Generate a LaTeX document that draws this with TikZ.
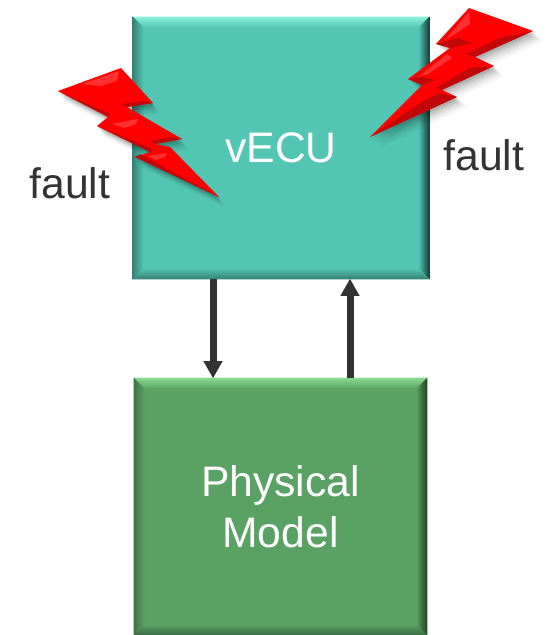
\documentclass[tikz,border=0pt]{standalone}
\usepackage{fontspec}
\setmainfont{Liberation Sans}
\usetikzlibrary{arrows.meta,calc,backgrounds}
\definecolor{tealface}{HTML}{52C5B3}
\definecolor{teallight}{HTML}{8CF0DC}
\definecolor{tealside}{HTML}{358377}
\definecolor{tealdark}{HTML}{173F39}
\definecolor{tealbot}{HTML}{357F73}
\definecolor{greenface}{HTML}{5AA263}
\definecolor{greenlight}{HTML}{8ADB94}
\definecolor{greenside}{HTML}{3F7546}
\definecolor{greendark}{HTML}{1E3D23}
\definecolor{greenbot}{HTML}{3A6B41}
\definecolor{ink}{HTML}{333333}
\definecolor{boltred}{HTML}{FF0000}
\definecolor{boltdark}{HTML}{A80A0A}
\definecolor{boltlight}{HTML}{FF7878}
\tikzset{
  boxnode/.style={inner sep=0pt,text=white,font=\fontsize{32pt}{38.5pt}\selectfont,align=center},
  flow/.style={ink,line width=5.25pt,-{Triangle[width=13.5pt,length=13pt]},shorten >=-0.5pt},
  faultlabel/.style={text=ink,inner sep=0pt,font=\fontsize{32pt}{38.5pt}\selectfont},
  boltlit/.style={boltlight,opacity=.4},
  boltshade/.style={boltdark,opacity=.7},
}
\newcommand{\bevelbox}[2]{%
  \fill[#2face] (#1.south west) rectangle (#1.north east);
  \shade[top color=#2light,bottom color=#2face]
    (#1.north west) -- (#1.north east) -- ($(#1.north east)+(-11,11)$) -- ($(#1.north west)+(11,11)$) -- cycle;
  \shade[left color=#2side,right color=#2face]
    (#1.north west) -- ($(#1.north west)+(11,11)$) -- ($(#1.south west)+(11,-11)$) -- (#1.south west) -- cycle;
  \shade[left color=#2face,right color=#2dark]
    (#1.north east) -- ($(#1.north east)+(-11,11)$) -- ($(#1.south east)+(-11,-11)$) -- (#1.south east) -- cycle;
  \shade[top color=#2face,bottom color=#2bot]
    (#1.south west) -- ($(#1.south west)+(11,-11)$) -- ($(#1.south east)+(-11,-11)$) -- (#1.south east) -- cycle;
}
\newcommand{\boltleft}{(58,91) -- (121,68) -- (153,103) -- (127,107) -- (182,139) -- (155,144) -- (170,147) -- (219,197) -- (135,157) -- (150,152) -- (97,126) -- (108,117) -- cycle}
\newcommand{\boltright}{(533,31) -- (469,8) -- (436,44) -- (450,48) -- (408,79) -- (422,85) -- (370,137) -- (457,97) -- (442,90) -- (494,66) -- (475,57) -- cycle}
\begin{document}
\begin{tikzpicture}[x=0.75pt,y=-0.75pt]
\useasboundingbox (0,0) rectangle (549,635);
\node[boxnode,minimum width=222pt,minimum height=196.5pt] (vecu) at (281,148) {\raisebox{-2.2pt}{vECU}};
\node[boxnode,minimum width=219.75pt,minimum height=192.75pt] (model) at (280.5,506.5) {\raisebox{-0.6pt}{Physical}\\\raisebox{-0.6pt}{Model}};
\begin{scope}[on background layer]
  \bevelbox{vecu}{teal}
  \bevelbox{model}{green}
\end{scope}
% connectors
\coordinate (downx) at (213,0);
\coordinate (upx) at (350,0);
\draw[flow] (vecu.south -| downx) -- (model.north -| downx);
\draw[flow] (model.north -| upx) -- (vecu.south -| upx);
% labels
\node[faultlabel] (f1) at (70,183.5) {fault};
\node[faultlabel] (f2) at (484,155.5) {fault};
% left bolt
\foreach \d/\o in {10/.04,8/.05,6/.07,4/.09,2/.11}{
  \fill[black,opacity=\o,shift={(\d*0.6,\d)}] \boltleft;
}
\fill[boltred] \boltleft;
\fill[boltlit] (82,84) -- (119,71) -- (117,81) -- (100,86) -- cycle;
\fill[boltlit] (112,124) -- (138,119) -- (136,124) -- (124,128) -- cycle;
\fill[boltlit] (148,156) -- (167,153) -- (165,157) -- (156,160) -- cycle;
\fill[boltshade] (153,103) -- (127,107) -- (121,104) -- (143,101) -- cycle;
\fill[boltshade] (182,139) -- (155,144) -- (150,141) -- (172,137) -- cycle;
\fill[boltshade] (58,91) -- (108,117) -- (110,114) -- cycle;
\fill[boltshade] (97,126) -- (150,152) -- (153,149) -- cycle;
\fill[boltshade] (135,157) -- (219,197) -- (140,154) -- cycle;
% right bolt
\foreach \d/\o in {10/.04,8/.05,6/.07,4/.09,2/.11}{
  \fill[black,opacity=\o,shift={(\d,\d)}] \boltright;
}
\fill[boltred] \boltright;
\fill[boltlit] (469,12) -- (470,24) -- (452,36) -- (445,40) -- cycle;
\fill[boltlit] (447,54) -- (418,77) -- (428,74) -- (452,58) -- cycle;
\fill[boltshade] (533,31) -- (475,57) -- (466,54) -- (500,38) -- cycle;
\fill[boltshade] (436,44) -- (450,48) -- (472,43) -- (458,38) -- cycle;
\fill[boltshade] (408,79) -- (422,85) -- (436,80) -- (420,77) -- cycle;
\fill[boltshade] (494,66) -- (442,90) -- (436,88) -- (470,68) -- cycle;
\fill[boltshade] (457,97) -- (370,137) -- (425,100) -- (440,93) -- cycle;
\end{tikzpicture}
\end{document}
